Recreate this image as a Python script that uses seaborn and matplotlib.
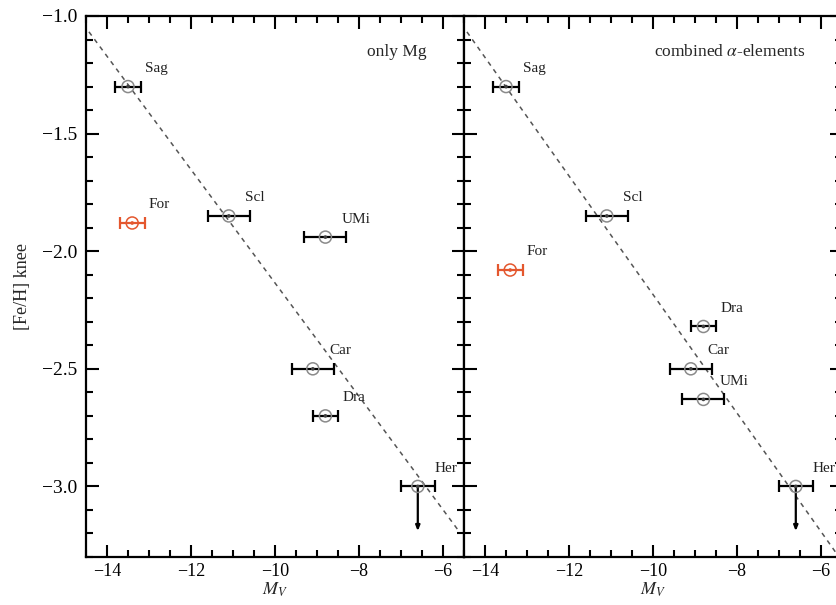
import matplotlib
matplotlib.use("Agg")
import matplotlib.pyplot as plt
import seaborn as sns
import numpy as np
import pandas as pd
from matplotlib.ticker import MultipleLocator

sns.set_theme(style="ticks")
plt.rcParams['font.family'] = ['Liberation Serif', 'DejaVu Serif']
plt.rcParams['mathtext.fontset'] = 'stix'
plt.rcParams['axes.unicode_minus'] = True

# Galaxy data
galaxies = ['Sag', 'For', 'Scl', 'UMi', 'Car', 'Dra', 'Her']
mv = [-13.5, -13.4, -11.1, -8.8, -9.1, -8.8, -6.6]
mv_err = [0.3, 0.3, 0.5, 0.5, 0.5, 0.3, 0.4]

# [Fe/H] knee, panel 1 (only Mg) and panel 2 (combined alpha)
feh_mg = [-1.30, -1.88, -1.85, -1.94, -2.50, -2.70, -3.00]
feh_alpha = [-1.30, -2.08, -1.85, -2.63, -2.50, -2.32, -3.00]

# Her is an upper limit
upper_limit = ['Her']
limit_len = 0.19

# Dashed relations (slope, intercept) for each panel
fit_mg = (-0.241, -4.545)
fit_alpha = (-0.252, -4.704)
fit_range = [-14.43, -5.6]

panel_titles = ['only Mg', r'combined $\alpha$-elements']
HIGHLIGHT = 'For'
RED = '#E4572E'
GREY = '#8a8a8a'

fig = plt.figure(figsize=(8.36, 6.05), dpi=100)
W, H = 836, 605
ax1 = fig.add_axes([86 / W, 48 / H, 378 / W, 541 / H])
ax2 = fig.add_axes([464 / W, 48 / H, 378 / W, 541 / H], sharey=ax1)


def draw_panel(ax, feh, fit, title):
    df = pd.DataFrame({'name': galaxies, 'mv': mv, 'err': mv_err, 'feh': feh})
    df['kind'] = np.where(df['name'] == HIGHLIGHT, 'hl', 'normal')

    # fit line
    xs = np.array(fit_range)
    ax.plot(xs, fit[0] * xs + fit[1], ls=(0, (3, 3)), color='#555555', lw=1.1, zorder=1)

    for _, r in df.iterrows():
        c = RED if r['kind'] == 'hl' else 'black'
        ax.errorbar(r['mv'], r['feh'], xerr=r['err'], fmt='none', ecolor=c,
                    elinewidth=1.6, capsize=4, capthick=1.6, zorder=3)
        if r['name'] in upper_limit:
            ax.annotate('', xy=(r['mv'], r['feh'] - limit_len), xytext=(r['mv'], r['feh']),
                        arrowprops=dict(arrowstyle='-|>,head_length=0.25,head_width=0.1',
                                        color='black', lw=1.6, shrinkA=0, shrinkB=0),
                        zorder=3)
        ax.annotate(r['name'], (r['mv'], r['feh']), xytext=(12, 13), textcoords='offset points',
                    ha='left', va='center', fontsize=11, color='#222222')

    n_before = len(ax.collections)
    sns.scatterplot(data=df, x='mv', y='feh', hue='kind',
                    palette={'normal': GREY, 'hl': RED}, marker='o', s=75,
                    linewidth=1.1, legend=False, ax=ax, zorder=4)
    rings = ax.collections[n_before]
    rings.set_facecolor('none')
    rings.set_edgecolors([GREY if k == 'normal' else RED for k in df['kind']])
    sns.scatterplot(data=df, x='mv', y='feh', hue='kind',
                    palette={'normal': '#444444', 'hl': RED}, marker='o', s=7,
                    linewidth=0, legend=False, ax=ax, zorder=5)

    ax.text(0.902, 0.933, title, transform=ax.transAxes, ha='right', va='center', fontsize=12.5)

    ax.set_xlim(-14.5, -5.5)
    ax.set_ylim(-3.3, -1.0)
    ax.xaxis.set_major_locator(MultipleLocator(2))
    ax.xaxis.set_minor_locator(MultipleLocator(0.5))
    ax.yaxis.set_major_locator(MultipleLocator(0.5))
    ax.yaxis.set_minor_locator(MultipleLocator(0.1))
    ax.tick_params(which='both', direction='in', top=True, right=True, width=1.5, colors='black')
    ax.tick_params(which='major', length=9, labelsize=14)
    ax.tick_params(which='minor', length=5)
    ax.tick_params(axis='x', which='major', pad=4, labelsize=13)
    ax.tick_params(axis='y', which='major', pad=6)
    for s in ax.spines.values():
        s.set_linewidth(1.6)
        s.set_color('black')
    ax.set_xlabel(r'$M_V$', fontsize=13, labelpad=1)
    ax.set_ylabel('')


draw_panel(ax1, feh_mg, fit_mg, panel_titles[0])
draw_panel(ax2, feh_alpha, fit_alpha, panel_titles[1])
ax1.set_ylabel('[Fe/H] knee', fontsize=13, labelpad=8)
plt.setp(ax2.get_yticklabels(), visible=False)

fig.savefig('out.png', dpi=100)
